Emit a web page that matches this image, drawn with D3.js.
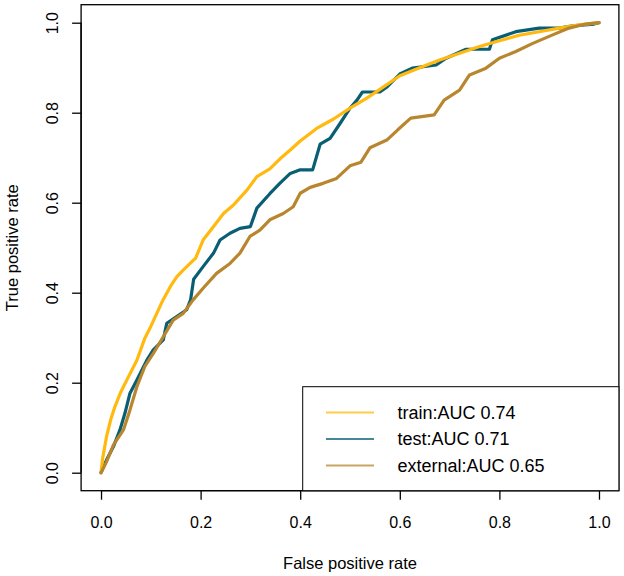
<!DOCTYPE html>
<html>
<head>
<meta charset="utf-8">
<script src="https://cdn.jsdelivr.net/npm/d3@7"></script>
<style>
  html, body { margin: 0; padding: 0; background: #fff; }
  text { font-family: "Liberation Sans", Arial, sans-serif; fill: #000; }
</style>
</head>
<body>
<svg id="chart" width="624" height="576"></svg>
<script>
const tickValues = [0, 0.2, 0.4, 0.6, 0.8, 1.0];
const tickLabels = ["0.0", "0.2", "0.4", "0.6", "0.8", "1.0"];

const seriesNames = ["train:AUC 0.74", "test:AUC 0.71", "external:AUC 0.65"];

const trainFPR = [0, 0.003, 0.011, 0.02, 0.028, 0.04, 0.055, 0.072, 0.088, 0.1, 0.112, 0.125, 0.14, 0.152, 0.165, 0.179, 0.19, 0.205, 0.226, 0.246, 0.266, 0.293, 0.313, 0.339, 0.359, 0.38, 0.4, 0.433, 0.467, 0.5, 0.533, 0.56, 0.6, 0.64, 0.68, 0.72, 0.76, 0.8, 0.84, 0.88, 0.92, 0.96, 1];
const trainTPR = [0, 0.03, 0.08, 0.12, 0.147, 0.18, 0.213, 0.25, 0.299, 0.325, 0.354, 0.385, 0.415, 0.435, 0.45, 0.465, 0.477, 0.517, 0.547, 0.576, 0.595, 0.628, 0.658, 0.675, 0.697, 0.717, 0.737, 0.765, 0.786, 0.81, 0.832, 0.852, 0.882, 0.9, 0.917, 0.932, 0.947, 0.96, 0.972, 0.98, 0.988, 0.995, 1];

const testFPR = [0, 0.011, 0.025, 0.038, 0.048, 0.058, 0.072, 0.092, 0.105, 0.125, 0.132, 0.152, 0.172, 0.18, 0.186, 0.205, 0.226, 0.239, 0.259, 0.279, 0.3, 0.313, 0.339, 0.359, 0.38, 0.4, 0.425, 0.44, 0.46, 0.48, 0.5, 0.514, 0.525, 0.56, 0.575, 0.6, 0.625, 0.673, 0.693, 0.733, 0.78, 0.786, 0.833, 0.88, 0.92, 0.947, 0.99, 1];
const testTPR = [0, 0.028, 0.058, 0.095, 0.132, 0.176, 0.206, 0.25, 0.273, 0.295, 0.332, 0.347, 0.362, 0.385, 0.43, 0.458, 0.488, 0.517, 0.532, 0.543, 0.547, 0.588, 0.62, 0.643, 0.665, 0.673, 0.673, 0.73, 0.743, 0.776, 0.81, 0.828, 0.846, 0.846, 0.858, 0.886, 0.899, 0.906, 0.921, 0.941, 0.941, 0.962, 0.98, 0.988, 0.988, 0.993, 0.997, 1];

const extFPR = [0, 0.011, 0.025, 0.045, 0.058, 0.072, 0.088, 0.105, 0.125, 0.145, 0.165, 0.185, 0.205, 0.232, 0.259, 0.279, 0.299, 0.319, 0.339, 0.366, 0.386, 0.4, 0.42, 0.446, 0.473, 0.5, 0.522, 0.54, 0.575, 0.596, 0.622, 0.669, 0.689, 0.72, 0.74, 0.773, 0.8, 0.833, 0.867, 0.907, 0.94, 0.973, 1];
const extTPR = [0, 0.024, 0.062, 0.095, 0.139, 0.191, 0.236, 0.265, 0.302, 0.339, 0.354, 0.384, 0.41, 0.443, 0.465, 0.488, 0.525, 0.539, 0.562, 0.576, 0.591, 0.621, 0.634, 0.643, 0.654, 0.682, 0.69, 0.722, 0.74, 0.762, 0.788, 0.795, 0.828, 0.85, 0.884, 0.899, 0.921, 0.936, 0.954, 0.973, 0.988, 0.997, 1];

const colors = { train: "#FFB90F", test: "#0A5E73", external: "#B8862E" };

const svg = d3.select("#chart");
const x = d3.scaleLinear().domain([-0.04, 1.04]).range([81.1, 618.9]);
const y = d3.scaleLinear().domain([-0.04, 1.04]).range([490.7, 4.7]);

const line = d3.line().x(d => x(d[0])).y(d => y(d[1]));
const zip = (a, b) => a.map((v, i) => [v, b[i]]);

// draw order: test, train, external
const curves = [
  { key: "test", data: zip(testFPR, testTPR) },
  { key: "train", data: zip(trainFPR, trainTPR) },
  { key: "external", data: zip(extFPR, extTPR) }
];
svg.append("g").selectAll("path").data(curves).join("path")
  .attr("d", d => line(d.data))
  .attr("fill", "none")
  .attr("stroke", d => colors[d.key])
  .attr("stroke-width", 3.2)
  .attr("stroke-linejoin", "round")
  .attr("stroke-linecap", "round");

// box
svg.append("rect")
  .attr("x", x(-0.04)).attr("y", y(1.04))
  .attr("width", x(1.04) - x(-0.04)).attr("height", y(-0.04) - y(1.04))
  .attr("fill", "none").attr("stroke", "#000").attr("stroke-width", 1.3);

// x axis
const xAxis = d3.axisBottom(x).tickValues(tickValues).tickSize(9).tickPadding(17)
  .tickFormat((d, i) => tickLabels[i]);
const gx = svg.append("g").attr("transform", `translate(0,${y(-0.04)})`).call(xAxis);
gx.select(".domain").attr("d", `M${x(0)},0H${x(1)}`).attr("stroke-width", 1.3);
gx.selectAll(".tick line").attr("stroke-width", 1.3);
gx.selectAll("text").attr("font-size", 16).attr("font-family", "Liberation Sans, Arial, sans-serif");

// y axis
const yAxis = d3.axisLeft(y).tickValues(tickValues).tickSize(9)
  .tickFormat((d, i) => tickLabels[i]);
const gy = svg.append("g").attr("transform", `translate(${x(-0.04)},0)`).call(yAxis);
gy.select(".domain").attr("d", `M0,${y(0)}V${y(1)}`).attr("stroke-width", 1.3);
gy.selectAll(".tick line").attr("stroke-width", 1.3);
gy.selectAll("text")
  .attr("font-size", 16).attr("font-family", "Liberation Sans, Arial, sans-serif")
  .attr("x", 0).attr("dy", null).attr("y", -23.5)
  .attr("text-anchor", "middle")
  .attr("transform", "rotate(-90)");

// axis titles
svg.append("text").attr("x", (x(-0.04) + x(1.04)) / 2).attr("y", 569)
  .attr("text-anchor", "middle").attr("font-size", 16.5).text("False positive rate");
svg.append("text")
  .attr("transform", `translate(18,${(y(-0.04) + y(1.04)) / 2}) rotate(-90)`)
  .attr("text-anchor", "middle").attr("font-size", 16.5).text("True positive rate");

// legend
const lg = svg.append("g");
lg.append("rect").attr("x", 302.7).attr("y", 386.7)
  .attr("width", x(1.04) - 302.7).attr("height", y(-0.04) - 386.7)
  .attr("fill", "#fff").attr("stroke", "#000").attr("stroke-width", 1);
const legendKeys = ["train", "test", "external"];
const legendY = [412.5, 439, 465.5];
legendKeys.forEach((k, i) => {
  lg.append("line").attr("x1", 326).attr("x2", 374)
    .attr("y1", legendY[i]).attr("y2", legendY[i])
    .attr("stroke", colors[k]).attr("stroke-width", 2).attr("stroke-opacity", 0.75);
  lg.append("text").attr("x", 397.5).attr("y", legendY[i] + 6.3)
    .attr("font-size", 18).text(seriesNames[i]);
});
</script>
</body>
</html>
